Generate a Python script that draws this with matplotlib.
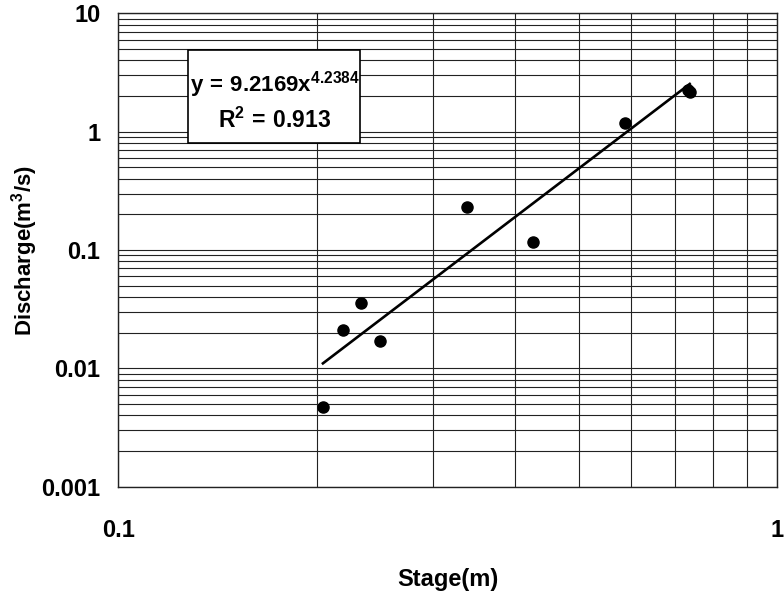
#!/usr/bin/env python3
# -*- coding: utf-8 -*-
import numpy as np
import matplotlib
matplotlib.use('Agg')
import matplotlib.pyplot as plt
from matplotlib.patches import Rectangle
from matplotlib.ticker import LogLocator, FixedLocator, NullFormatter

plt.rcParams['font.family'] = ['Liberation Sans', 'DejaVu Sans']
plt.rcParams['font.weight'] = 'bold'
plt.rcParams['mathtext.fontset'] = 'custom'
plt.rcParams['mathtext.rm'] = 'Liberation Sans:bold'
plt.rcParams['mathtext.it'] = 'Liberation Sans:bold'
plt.rcParams['mathtext.bf'] = 'Liberation Sans:bold'

# Measured stage (m) and discharge (m3/s)
stage = np.array([0.2044, 0.2193, 0.2335, 0.2492, 0.3386, 0.4259, 0.588, 0.733, 0.737])
discharge = np.array([0.00474, 0.0211, 0.0357, 0.0170, 0.2295, 0.1175, 1.19, 2.25, 2.15])

# Power-law rating curve
coef = 9.2169
expo = 4.2384
r2 = 0.913

x_ticks = [0.1, 1]
y_ticks = [0.001, 0.01, 0.1, 1, 10]
x_ticklabels = ['0.1', '1']
y_ticklabels = ['0.001', '0.01', '0.1', '1', '10']

fig = plt.figure(figsize=(7.84, 5.96), dpi=100)
ax = fig.add_axes([0.1511, 0.1834, 0.8400, 0.7943])

ax.set_xscale('log')
ax.set_yscale('log')
ax.set_xlim(0.1, 1)
ax.set_ylim(0.001, 10)

# grid on every major and minor decade step
ax.xaxis.set_major_locator(FixedLocator(x_ticks))
ax.yaxis.set_major_locator(FixedLocator(y_ticks))
ax.xaxis.set_minor_locator(LogLocator(base=10, subs=np.arange(2, 10)))
ax.yaxis.set_minor_locator(LogLocator(base=10, subs=np.arange(2, 10)))
ax.xaxis.set_minor_formatter(NullFormatter())
ax.yaxis.set_minor_formatter(NullFormatter())
ax.set_xticklabels(x_ticklabels)
ax.set_yticklabels(y_ticklabels)
ax.grid(True, which='both', color='#222222', linewidth=0.8)
ax.set_axisbelow(True)

ax.tick_params(axis='both', which='both', length=0)
ax.tick_params(axis='x', which='major', labelsize=17, pad=23)
ax.tick_params(axis='y', which='major', labelsize=17, pad=13)
for sp in ax.spines.values():
    sp.set_linewidth(1.0)
    sp.set_color('#222222')

# data points and fitted curve
ax.plot(stage, discharge, 'o', color='black', markersize=8)
xf = np.linspace(stage.min(), stage.max(), 100)
ax.plot(xf, coef * xf ** expo, color='black', linewidth=1.9)

# equation box
ax.add_patch(Rectangle((0.1055, 0.726), 0.2612, 0.1965, transform=ax.transAxes,
                       facecolor='white', edgecolor='black', linewidth=1.2, zorder=3))
ax.text(0.2377, 0.8338, r'$\mathregular{y\,{=}\,%.4fx^{%.4f}}$' % (coef, expo),
        transform=ax.transAxes, ha='center', va='baseline', fontsize=16, zorder=4)
ax.text(0.2377, 0.7577, r'$\mathregular{R^{2}\,{=}\,%.3f}$' % r2,
        transform=ax.transAxes, ha='center', va='baseline', fontsize=16.5, zorder=4)

ax.set_xlabel('Stage(m)', fontsize=17, fontweight='bold', labelpad=19)
ax.set_ylabel(r'Discharge(m$^{\mathregular{3}}$/s)', fontsize=16, fontweight='bold', labelpad=1)

fig.savefig('out.png', dpi=100)
